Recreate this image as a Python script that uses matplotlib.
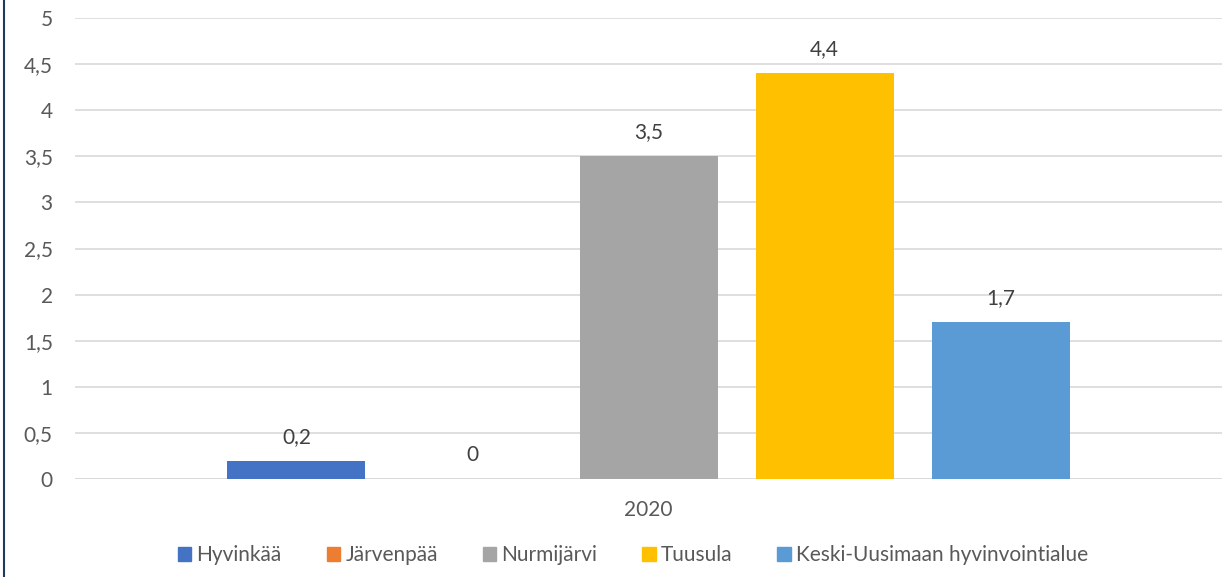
import matplotlib
matplotlib.use("Agg")
import matplotlib.pyplot as plt
from matplotlib.ticker import FuncFormatter, MultipleLocator
from matplotlib.patches import Patch
from matplotlib.lines import Line2D

categories = ["2020"]
series_names = ["Hyvinkää", "Järvenpää", "Nurmijärvi", "Tuusula", "Keski-Uusimaan hyvinvointialue"]
values = [0.2, 0.0, 3.5, 4.4, 1.7]
colors = ["#4472C4", "#ED7D31", "#A5A5A5", "#FFC000", "#5B9BD5"]

plt.rcParams['font.family'] = ['Lato', 'DejaVu Sans']
txt = "#595959"
fs = 15

W, H = 1227, 577
fig = plt.figure(figsize=(W/100, H/100), dpi=100)
ax = fig.add_axes([75/W, 1-479/H, (1222-75)/W, (479-18)/H])

n = len(series_names)
step = 176/1147
width = 138/1147
for i, (name, v, c) in enumerate(zip(series_names, values, colors)):
    x = (i - (n-1)/2) * step
    ax.bar(x, v, width=width, color=c, label=name, zorder=3)
    ax.annotate(f"{v:g}".replace(".", ","), (x, v), xytext=(0, 10), textcoords="offset points",
                ha="center", va="bottom", fontsize=fs, color="#404040")

ax.set_xlim(-0.5, 0.5)
ax.set_ylim(0, 5)
ax.yaxis.set_major_locator(MultipleLocator(0.5))
ax.yaxis.set_major_formatter(FuncFormatter(lambda v, p: f"{v:g}".replace(".", ",")))
ax.set_xticks([0])
ax.set_xticklabels(categories)
ax.tick_params(axis="both", length=0, labelsize=fs, labelcolor=txt)
ax.tick_params(axis="y", pad=16)
ax.tick_params(axis="x", pad=15)
ax.grid(axis="y", color="#D9D9D9", linewidth=1.2, zorder=0)
for s in ax.spines.values():
    s.set_visible(False)
ax.axhline(0, color="#D9D9D9", linewidth=1.2, zorder=2)

handles = [Patch(color=c) for c in colors]
fig.legend(handles, series_names, loc="center", bbox_to_anchor=(633/W, 1-555/H), ncol=n,
           frameon=False, fontsize=fs, labelcolor=txt, handlelength=0.65, handleheight=0.65,
           handletextpad=0.25, columnspacing=2.15)

fig.add_artist(Line2D([4/W, 4/W], [0, 1], color="#203864", linewidth=1.5, transform=fig.transFigure))

fig.savefig("out.png", dpi=100, facecolor="white")
